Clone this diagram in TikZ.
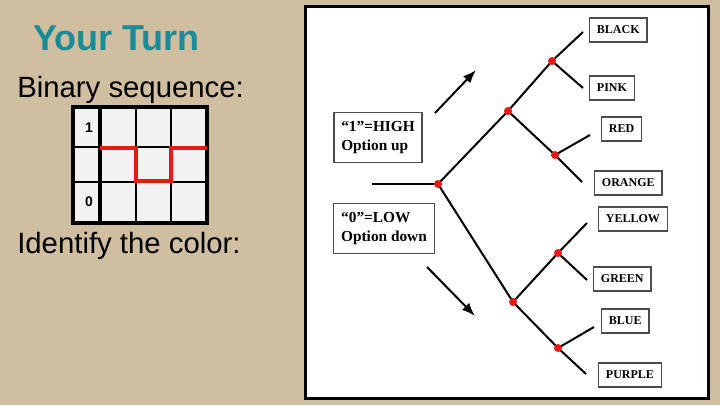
\documentclass[tikz,border=0pt]{standalone}
\usepackage{fontspec}
\setmainfont{Liberation Serif}
\newfontfamily\slidefont{Liberation Sans}
\usepackage{tikz}
\usetikzlibrary{arrows.meta, positioning}
\definecolor{YT_TAN}{HTML}{CFBE9F}
\definecolor{YT_TEAL}{HTML}{1A8C98}
\definecolor{YT_RED}{HTML}{E51A12}
\definecolor{YT_CELL}{HTML}{F2F2F2}
\tikzset{
  leaf/.style={
    rectangle, anchor=west,
    minimum height=18pt, inner xsep=5.5pt,
    draw=black!70, line width=0.9pt, fill=white,
    font=\bfseries\fontsize{9}{10}\selectfont},
  rulebox/.style={
    rectangle, align=left,
    inner xsep=5.5pt, inner ysep=6.5pt,
    draw=black!70, line width=0.9pt, fill=white,
    font=\bfseries\fontsize{11.5}{14}\selectfont},
  knot/.style={circle, inner sep=0pt, minimum size=6pt},
  branch/.style={line width=1.5pt, black},
  hint/.style={-{Latex[length=10pt,width=7.5pt]}, line width=1.5pt, black},
  slidetext/.style={anchor=base west, inner sep=0pt,
    font=\slidefont\fontsize{22}{24}\selectfont},
  gridlabel/.style={inner sep=0pt, font=\slidefont\bfseries\fontsize{10.5}{12}\selectfont},
  cellline/.style={line width=1.5pt, black},
  signal/.style={line width=3pt, YT_RED},
}

\begin{document}
\begin{tikzpicture}[x=0.75pt, y=-0.75pt]

  \useasboundingbox (0,0) rectangle (720,405);
  \fill[YT_TAN] (0,0) rectangle (720,405);

  % left side of the slide
  \node[slidetext, font=\slidefont\bfseries\fontsize{27}{29}\selectfont,
    color=YT_TEAL] (title) at (33,50) {Your Turn};
  \node[slidetext] (seq) at (17,97) {Binary sequence:};
  \node[slidetext] (ask) at (17,253) {Identify the color:};

  \fill[YT_CELL] (73,107) rectangle (207,223);
  \foreach \gx in {136,171}
    \draw[cellline] (\gx,107) -- (\gx,223);
  \foreach \gy in {147,182}
    \draw[cellline] (73,\gy) -- (207,\gy);
  \draw[line width=3pt] (100,107) -- (100,223);
  \draw[line width=3pt] (73,107) rectangle (207,223);
  \draw[signal] (100,148) -- (136,148) -- (136,181)
    -- (171,181) -- (171,148) -- (207,148);
  \node[gridlabel] (one) at (89,128) {1};
  \node[gridlabel] (zero) at (89,202) {0};

  % decision tree panel
  \draw[line width=2.25pt, fill=white] (305,6) rectangle (708,398);

  \node[rulebox] (high) at (378,137.5) {``1''=HIGH\\Option up};
  \node[rulebox] (low) at (384,228.5) {``0''=LOW\\Option down};

  \coordinate (upTail) at (435,113);
  \coordinate (upTip) at (476,70);
  \coordinate (downTail) at (427,267);
  \coordinate (downTip) at (475,316);
  \draw[hint] (upTail) -- (upTip);
  \draw[hint] (downTail) -- (downTip);

  \coordinate (entry) at (372,184);
  \coordinate (eBlack) at (583,32);
  \coordinate (ePink) at (583,88);
  \coordinate (eRed) at (590,135);
  \coordinate (eOrange) at (582,182);
  \coordinate (eYellow) at (587,223);
  \coordinate (eGreen) at (587,280);
  \coordinate (eBlue) at (594,327);
  \coordinate (ePurple) at (586,374);

  \node[knot] (root) at (438,184) {};
  \node[knot] (hi) at (508,111) {};
  \node[knot] (hihi) at (552,61) {};
  \node[knot] (hilo) at (555,155) {};
  \node[knot] (lo) at (513,302) {};
  \node[knot] (lohi) at (558,253) {};
  \node[knot] (lolo) at (558,348) {};

  \draw[branch] (entry) -- (root.center);
  \draw[branch] (root.center) -- (hi.center) -- (hihi.center) -- (eBlack);
  \draw[branch] (hihi.center) -- (ePink);
  \draw[branch] (hi.center) -- (hilo.center) -- (eOrange);
  \draw[branch] (hilo.center) -- (eRed);
  \draw[branch] (root.center) -- (lo.center) -- (lohi.center) -- (eYellow);
  \draw[branch] (lohi.center) -- (eGreen);
  \draw[branch] (lo.center) -- (lolo.center) -- (ePurple);
  \draw[branch] (lolo.center) -- (eBlue);

  \foreach \k in {root, hi, hihi, hilo, lo, lohi, lolo}
    \fill[YT_RED] (\k) circle (3pt);

  \node[leaf] (black) at (589,30) {BLACK};
  \node[leaf] (pink) at (589,88) {PINK};
  \node[leaf] (red) at (601,129) {RED};
  \node[leaf] (orange) at (594,183) {ORANGE};
  \node[leaf] (yellow) at (598,219) {YELLOW};
  \node[leaf] (green) at (593,279) {GREEN};
  \node[leaf] (blue) at (601,321) {BLUE};
  \node[leaf] (purple) at (598,375) {PURPLE};

\end{tikzpicture}
\end{document}
